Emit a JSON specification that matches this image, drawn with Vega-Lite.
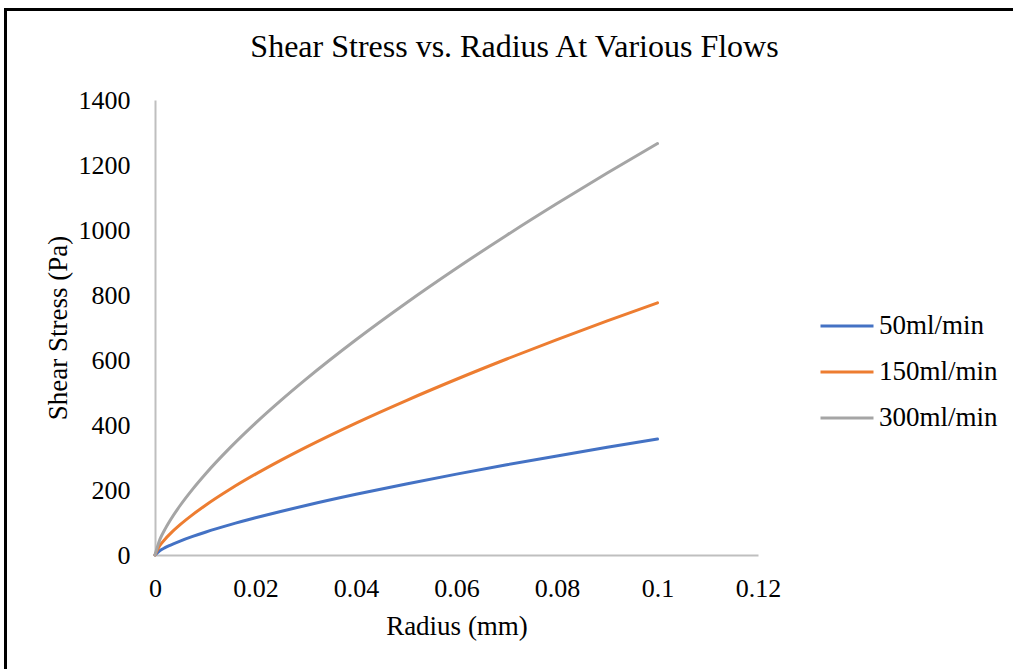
{
  "$schema": "https://vega.github.io/schema/vega-lite/v6.json",
  "width": 603,
  "height": 455,
  "autosize": "none",
  "padding": {"left": 155, "top": 100, "right": 255, "bottom": 114},
  "background": "white",
  "config": {
    "font": "Liberation Serif",
    "view": {"stroke": null},
    "axis": {
      "grid": false,
      "ticks": false,
      "tickSize": 0,
      "domainColor": "#BFBFBF",
      "domainWidth": 2,
      "labelColor": "black",
      "titleColor": "black",
      "labelFont": "Liberation Serif",
      "titleFont": "Liberation Serif",
      "labelFontSize": 26,
      "titleFontSize": 27,
      "titleFontWeight": "normal",
      "labelFlush": false
    },
    "legend": {
      "labelFont": "Liberation Serif",
      "labelFontSize": 27,
      "labelColor": "black"
    }
  },
  "title": {
    "text": "Shear Stress vs. Radius At Various Flows",
    "font": "Liberation Serif",
    "fontSize": 32,
    "fontWeight": "normal",
    "color": "black",
    "anchor": "middle",
    "frame": "group",
    "dx": 58,
    "offset": -55
  },
  "data": {
    "values": [
      {"radius": 0, "flow": "50ml/min", "stress": 0},
      {"radius": 0.001, "flow": "50ml/min", "stress": 13.8},
      {"radius": 0.002, "flow": "50ml/min", "stress": 22.5},
      {"radius": 0.003, "flow": "50ml/min", "stress": 29.9},
      {"radius": 0.005, "flow": "50ml/min", "stress": 42.9},
      {"radius": 0.0075, "flow": "50ml/min", "stress": 57.2},
      {"radius": 0.01, "flow": "50ml/min", "stress": 70.1},
      {"radius": 0.015, "flow": "50ml/min", "stress": 93.4},
      {"radius": 0.02, "flow": "50ml/min", "stress": 114.4},
      {"radius": 0.025, "flow": "50ml/min", "stress": 134.0},
      {"radius": 0.03, "flow": "50ml/min", "stress": 152.4},
      {"radius": 0.04, "flow": "50ml/min", "stress": 186.8},
      {"radius": 0.05, "flow": "50ml/min", "stress": 218.7},
      {"radius": 0.06, "flow": "50ml/min", "stress": 248.8},
      {"radius": 0.07, "flow": "50ml/min", "stress": 277.5},
      {"radius": 0.08, "flow": "50ml/min", "stress": 304.9},
      {"radius": 0.09, "flow": "50ml/min", "stress": 331.4},
      {"radius": 0.1, "flow": "50ml/min", "stress": 357.0},
      {"radius": 0, "flow": "150ml/min", "stress": 0},
      {"radius": 0.001, "flow": "150ml/min", "stress": 29.9},
      {"radius": 0.002, "flow": "150ml/min", "stress": 48.8},
      {"radius": 0.003, "flow": "150ml/min", "stress": 65.0},
      {"radius": 0.005, "flow": "150ml/min", "stress": 93.3},
      {"radius": 0.0075, "flow": "150ml/min", "stress": 124.3},
      {"radius": 0.01, "flow": "150ml/min", "stress": 152.4},
      {"radius": 0.015, "flow": "150ml/min", "stress": 203.0},
      {"radius": 0.02, "flow": "150ml/min", "stress": 248.7},
      {"radius": 0.025, "flow": "150ml/min", "stress": 291.2},
      {"radius": 0.03, "flow": "150ml/min", "stress": 331.3},
      {"radius": 0.04, "flow": "150ml/min", "stress": 406.0},
      {"radius": 0.05, "flow": "150ml/min", "stress": 475.3},
      {"radius": 0.06, "flow": "150ml/min", "stress": 540.8},
      {"radius": 0.07, "flow": "150ml/min", "stress": 603.1},
      {"radius": 0.08, "flow": "150ml/min", "stress": 662.8},
      {"radius": 0.09, "flow": "150ml/min", "stress": 720.4},
      {"radius": 0.1, "flow": "150ml/min", "stress": 776.0},
      {"radius": 0, "flow": "300ml/min", "stress": 0},
      {"radius": 0.001, "flow": "300ml/min", "stress": 48.8},
      {"radius": 0.002, "flow": "300ml/min", "stress": 79.6},
      {"radius": 0.003, "flow": "300ml/min", "stress": 106.1},
      {"radius": 0.005, "flow": "300ml/min", "stress": 152.3},
      {"radius": 0.0075, "flow": "300ml/min", "stress": 202.8},
      {"radius": 0.01, "flow": "300ml/min", "stress": 248.6},
      {"radius": 0.015, "flow": "300ml/min", "stress": 331.1},
      {"radius": 0.02, "flow": "300ml/min", "stress": 405.8},
      {"radius": 0.025, "flow": "300ml/min", "stress": 475.0},
      {"radius": 0.03, "flow": "300ml/min", "stress": 540.4},
      {"radius": 0.04, "flow": "300ml/min", "stress": 662.3},
      {"radius": 0.05, "flow": "300ml/min", "stress": 775.5},
      {"radius": 0.06, "flow": "300ml/min", "stress": 882.3},
      {"radius": 0.07, "flow": "300ml/min", "stress": 983.9},
      {"radius": 0.08, "flow": "300ml/min", "stress": 1081.3},
      {"radius": 0.09, "flow": "300ml/min", "stress": 1175.3},
      {"radius": 0.1, "flow": "300ml/min", "stress": 1266.0}
    ]
  },
  "layer": [
    {
      "mark": {"type": "rect", "fill": null, "stroke": "black", "strokeWidth": 2, "clip": false},
      "encoding": {
        "x": {"datum": -0.0297, "type": "quantitative", "scale": {"domain": [0, 0.12], "nice": false}},
        "x2": {"datum": 0.2},
        "y": {"datum": 1678, "type": "quantitative", "scale": {"domain": [0, 1400], "nice": false}},
        "y2": {"datum": -600}
      }
    },
    {
      "mark": {"type": "line", "strokeWidth": 3, "strokeCap": "round", "interpolate": "monotone"},
      "encoding": {
        "x": {
          "field": "radius",
          "type": "quantitative",
          "title": "Radius (mm)",
          "scale": {"domain": [0, 0.12], "nice": false},
          "axis": {"values": [0, 0.02, 0.04, 0.06, 0.08, 0.1, 0.12], "format": "~g", "labelPadding": 20, "titlePadding": 12}
        },
        "y": {
          "field": "stress",
          "type": "quantitative",
          "title": "Shear Stress (Pa)",
          "scale": {"domain": [0, 1400], "nice": false},
          "axis": {"values": [0, 200, 400, 600, 800, 1000, 1200, 1400], "format": "d", "labelPadding": 25, "titlePadding": 6}
        },
        "color": {
          "field": "flow",
          "type": "nominal",
          "sort": ["50ml/min", "150ml/min", "300ml/min"],
          "scale": {"domain": ["50ml/min", "150ml/min", "300ml/min"], "range": ["#4472C4", "#ED7D31", "#A5A5A5"]},
          "legend": {
            "title": null,
            "orient": "none",
            "legendX": 664,
            "legendY": 198,
            "padding": 0,
            "symbolType": "stroke",
            "symbolSize": 2809,
            "symbolStrokeWidth": 3,
            "rowPadding": 5,
            "labelOffset": 4
          }
        }
      }
    }
  ]
}
